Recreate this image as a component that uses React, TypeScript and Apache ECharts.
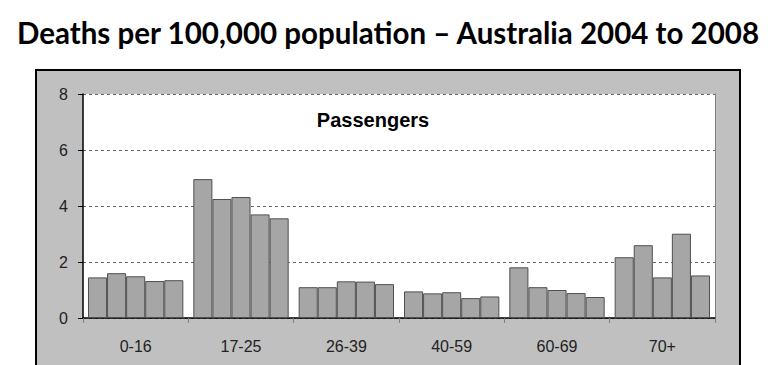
import React, { useEffect, useRef } from "react";
import * as echarts from "echarts";

const categories = ["0-16", "17-25", "26-39", "40-59", "60-69", "70+"];
const years = ["2004", "2005", "2006", "2007", "2008"];
const y2004 = [1.45, 4.96, 1.1, 0.95, 1.81, 2.17];
const y2005 = [1.6, 4.25, 1.1, 0.88, 1.1, 2.6];
const y2006 = [1.49, 4.32, 1.31, 0.92, 1.0, 1.45];
const y2007 = [1.32, 3.7, 1.3, 0.71, 0.89, 3.01];
const y2008 = [1.35, 3.56, 1.21, 0.77, 0.75, 1.52];
const yearValues = [y2004, y2005, y2006, y2007, y2008];
const yTicks = [0, 2, 4, 6, 8];

export default function App() {
  const ref = useRef<HTMLDivElement>(null);
  useEffect(() => {
    const chart = echarts.init(ref.current!, null, { renderer: "svg" });
    chart.setOption({
      animation: false,
      backgroundColor: "#ffffff",
      title: {
        text: "Deaths per 100,000 population – Australia 2004 to 2008",
        left: "center",
        top: 12,
        textStyle: {
          fontFamily: "Lato",
          fontWeight: "bold",
          fontSize: 29.5,
          color: "#000",
        },
      },
      graphic: [
        {
          type: "rect",
          z: -10,
          shape: { x: 36, y: 70, width: 704, height: 300 },
          style: { fill: "#c0c0c0", stroke: "#000", lineWidth: 2 },
        },
        {
          type: "text",
          x: 373,
          y: 120,
          z: 10,
          style: {
            text: "Passengers",
            align: "center",
            verticalAlign: "middle",
            fontFamily: "Liberation Sans, Arial",
            fontWeight: "bold",
            fontSize: 20,
            fill: "#000",
          },
        },
      ],
      grid: {
        left: 83,
        right: 61,
        top: 94,
        bottom: 47,
        show: true,
        backgroundColor: "#ffffff",
        borderWidth: 0,
      },
      xAxis: {
        type: "category",
        data: categories,
        axisLine: { show: true, lineStyle: { color: "#000", width: 1.5 } },
        axisTick: { show: true, length: 5, lineStyle: { color: "#808080" } },
        axisLabel: {
          fontFamily: "Liberation Sans, Arial",
          fontSize: 16,
          color: "#222",
          margin: 20,
        },
        splitLine: { show: false },
      },
      yAxis: [
        {
          type: "value",
          min: 0,
          max: 8,
          interval: 2,
          axisLine: { show: true, lineStyle: { color: "#000", width: 1.5 } },
          axisTick: { show: true, length: 5, lineStyle: { color: "#000" } },
          axisLabel: {
            fontFamily: "Liberation Sans, Arial",
            fontSize: 16,
            color: "#222",
            margin: 15,
            formatter: (v: number) => (yTicks.includes(v) ? String(v) : ""),
          },
          splitLine: {
            show: true,
            lineStyle: { color: "#666", type: [3, 3], width: 1 },
          },
        },
        {
          type: "value",
          position: "right",
          min: 0,
          max: 8,
          interval: 2,
          axisLine: { show: true, lineStyle: { color: "#808080", width: 1 } },
          axisTick: { show: false },
          axisLabel: { show: false },
          splitLine: { show: false },
        },
      ],
      series: years.map((yr, i) => ({
        name: yr,
        type: "bar",
        data: yearValues[i],
        barGap: "0%",
        barCategoryGap: "9.5%",
        itemStyle: {
          color: "#a6a6a6",
          borderColor: "#505050",
          borderWidth: 1,
        },
      })),
    });
    return () => chart.dispose();
  }, []);
  return (
    <div
      ref={ref}
      style={{ position: "fixed", left: 0, top: 0, width: 776, height: 365 }}
    />
  );
}
